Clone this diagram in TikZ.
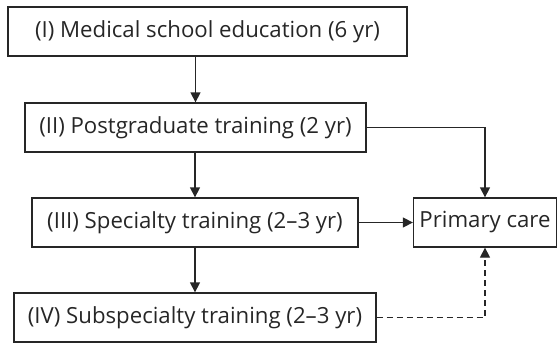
\documentclass[tikz,border=0pt]{standalone}
\usepackage{fontspec}
\setmainfont{Open Sans}
\usetikzlibrary{arrows.meta}

\begin{document}
\begin{tikzpicture}
  [x=1pt,y=-1pt,line width=1.3pt,draw=black!85,
   every node/.style={draw=black!85,rectangle,minimum height=49pt,inner sep=0pt,
     text=black!85,font=\fontsize{22.2}{26}\selectfont},
   arr/.style={-{Triangle[length=10pt,width=10pt]}}]
  \useasboundingbox (0,0) rectangle (557,343);
  \node[minimum width=399pt] (s1) at (207.5,31.5) {(I) Medical school education (6 yr)};
  \node[minimum width=341pt] (s2) at (195.5,127.5) {(II) Postgraduate training (2 yr)};
  \node[minimum width=326pt] (s3) at (195,222.5)  {(III) Specialty training (2--3 yr)};
  \node[minimum width=362pt] (s4) at (195,317.5)  {(IV) Subspecialty training (2--3 yr)};
  \node[minimum width=143pt] (pc) at (485,222.5)  {Primary care};

  \foreach \from/\to in {s1/s2,s2/s3,s3/s4}
    \draw[arr] (\to.north |- \from.south) -- (\to.north);
  \draw[arr] (s2.east) -| (pc.north);
  \draw[arr] (s3.east) -- (pc.west);
  \draw[arr,dash pattern=on 6pt off 4pt] (s4.east) -| (pc.south);
\end{tikzpicture}
\end{document}
